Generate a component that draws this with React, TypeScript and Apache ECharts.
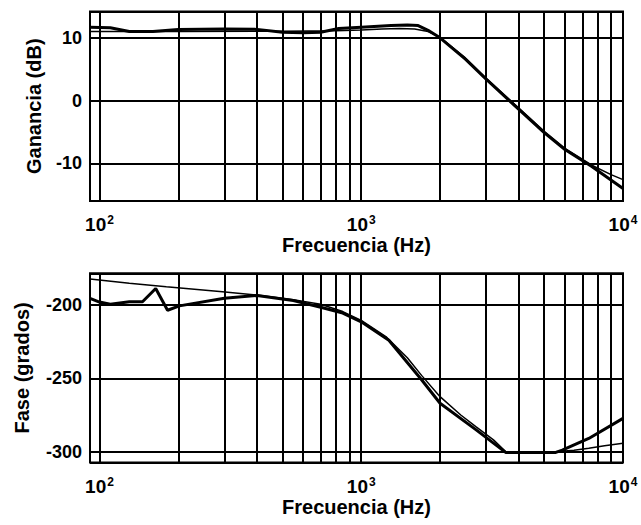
import React, { useEffect, useRef } from "react";
import * as echarts from "echarts";

// Minor log grid lines (Hz)
const minorGridFreqs = [200, 300, 400, 500, 600, 700, 800, 900, 2000, 3000, 4000, 5000, 6000, 7000, 8000, 9000];

// Gain (dB) – measured (thick)
const gainMeasFreq = [92, 110, 130, 160, 200, 300, 400, 500, 600, 700, 820, 1000, 1300, 1500, 1650, 1800, 2000, 2500, 3000, 4000, 5000, 6000, 7600, 10000];
const gainMeas = [11.7, 11.6, 11.0, 11.0, 11.35, 11.4, 11.35, 10.9, 10.8, 10.9, 11.5, 11.7, 11.95, 12.05, 11.95, 11.2, 10.0, 6.6, 3.4, -1.4, -5.1, -7.8, -10.5, -14.0];

// Gain (dB) – model (thin)
const gainSimFreq = [92, 200, 500, 800, 1000, 1200, 1400, 1600, 1800, 2000, 2500, 3000, 4000, 5000, 6000, 7600, 9000, 10000];
const gainSim = [11.0, 11.0, 11.05, 11.15, 11.25, 11.4, 11.5, 11.4, 11.0, 10.1, 6.8, 3.6, -1.2, -4.9, -7.6, -10.3, -11.8, -12.6];

// Phase (grados) – measured (thick)
const phaseMeasFreq = [92, 100, 110, 130, 146, 164, 182, 202, 300, 400, 550, 700, 850, 1000, 1275, 1700, 2000, 2740, 3560, 5540, 5860, 7400, 10000];
const phaseMeas = [-195.5, -198, -199.5, -197.8, -197.8, -188.8, -203.6, -200.6, -195.4, -193.5, -197, -201.5, -205.5, -211.5, -224, -251, -267, -285, -300.5, -300.5, -299, -291, -277.3];

// Phase (grados) – model (thin)
const phaseSimFreq = [92, 130, 180, 295, 400, 550, 700, 850, 1000, 1250, 1500, 1700, 2000, 2400, 2740, 3200, 3560, 4500, 5540, 6500, 7400, 8500, 10000];
const phaseSim = [-182.3, -185.2, -187.5, -190.9, -193.2, -196.5, -199.5, -204.5, -210.5, -222, -236, -248, -262.5, -275, -283, -292, -300, -300.3, -300, -299, -297.7, -296, -294.3];

const FONT = "'Liberation Sans', Arial, Helvetica, sans-serif";

const pairs = (xs: number[], ys: number[]) => xs.map((x, i) => [x, ys[i]]);

const logFmt = (v: number) => {
  const e = Math.log10(v);
  const r = Math.round(e);
  if (Math.abs(e - r) > 1e-3) return "";
  return `{b|10}{s|${r}}`;
};

const tenFmt = (step: number) => (v: number) =>
  Math.abs(v / step - Math.round(v / step)) < 1e-6 ? String(Math.round(v)) : "";

export default function App() {
  const ref = useRef<HTMLDivElement>(null);
  useEffect(() => {
    document.body.style.margin = "0";
    const chart = echarts.init(ref.current!, null, { renderer: "svg" });
    const gridLine = { show: true, lineStyle: { color: "#000", width: 2, type: "solid" as const } };
    const nameStyle = { fontFamily: FONT, fontWeight: "bold" as const, fontSize: 20, color: "#000" };
    const mkX = (gridIndex: number) => ({
      type: "log" as const,
      logBase: 10,
      gridIndex,
      min: 92,
      max: 10000,
      axisLine: { show: false },
      axisTick: { show: false },
      splitLine: gridLine,
      axisLabel: {
        formatter: logFmt,
        margin: 13,
        rich: {
          b: { fontFamily: FONT, fontWeight: "bold", fontSize: 19, color: "#000", lineHeight: 20, verticalAlign: "bottom", padding: [6, 0, 0, 0] },
          s: { fontFamily: FONT, fontWeight: "bold", fontSize: 12, color: "#000", verticalAlign: "top", lineHeight: 12, padding: [0, 0, 0, 1] },
        },
      },
      name: "Frecuencia (Hz)",
      nameLocation: "middle" as const,
      nameGap: 34,
      nameTextStyle: nameStyle,
    });
    const mkY = (gridIndex: number, min: number, max: number, step: number, name: string, gap: number) => ({
      type: "value" as const,
      gridIndex,
      min,
      max,
      splitNumber: 3,
      axisLine: { show: false },
      axisTick: { show: false },
      splitLine: gridLine,
      axisLabel: { formatter: tenFmt(step), margin: 8, fontFamily: FONT, fontWeight: "bold" as const, fontSize: 18, color: "#000" },
      name,
      nameLocation: "middle" as const,
      nameGap: gap,
      nameTextStyle: nameStyle,
    });
    const markLine = {
      silent: true,
      symbol: ["none", "none"],
      label: { show: false },
      lineStyle: { color: "#000", width: 2, type: "solid" },
      emphasis: { disabled: true },
      data: minorGridFreqs.map((f) => ({ xAxis: f })),
    };
    const line = (xi: number, data: number[][], width: number, withMark: boolean) => ({
      type: "line" as const,
      xAxisIndex: xi,
      yAxisIndex: xi,
      data,
      showSymbol: false,
      symbol: "none",
      lineStyle: { color: "#000", width },
      emphasis: { disabled: true },
      ...(withMark ? { markLine } : {}),
    });
    chart.setOption({
      animation: false,
      backgroundColor: "#fff",
      grid: [
        { left: 90, top: 11.5, width: 533, height: 189.5, show: true, borderColor: "#000", borderWidth: 2, backgroundColor: "transparent" },
        { left: 90, top: 273.3, width: 533, height: 189.2, show: true, borderColor: "#000", borderWidth: 2, backgroundColor: "transparent" },
      ],
      xAxis: [mkX(0), mkX(1)],
      yAxis: [
        mkY(0, -16, 14.2, 10, "Ganancia (dB)", 46),
        mkY(1, -307.4, -178.4, 50, "Fase (grados)", 58),
      ],
      series: [
        line(0, pairs(gainSimFreq, gainSim), 1.5, true),
        line(0, pairs(gainMeasFreq, gainMeas), 3, false),
        line(1, pairs(phaseSimFreq, phaseSim), 1.5, true),
        line(1, pairs(phaseMeasFreq, phaseMeas), 3, false),
      ],
    });
    return () => chart.dispose();
  }, []);
  return <div ref={ref} style={{ width: 641, height: 525 }} />;
}
